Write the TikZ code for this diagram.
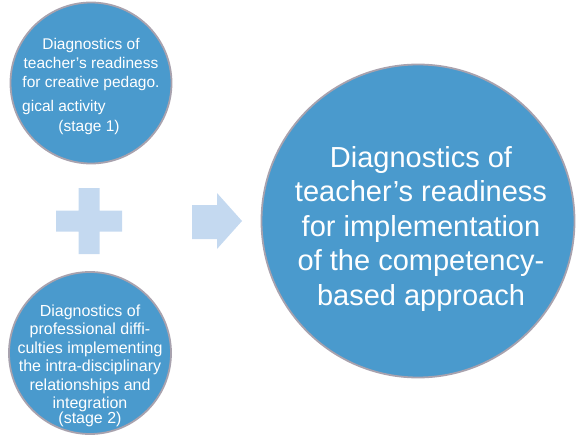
\documentclass[tikz,border=0pt]{standalone}
\usepackage{fontspec}
\setmainfont{Liberation Sans}
\definecolor{discblue}{HTML}{4A9ACD}
\definecolor{discrim}{HTML}{A8A2AE}
\definecolor{paleblue}{HTML}{C4D9F0}
\tikzset{
  disc/.style={circle, fill=discblue, draw=discrim, line width=1.8pt, inner sep=0pt},
  smalltxt/.style={text=white, align=center, inner sep=0pt, font=\fontsize{15.5}{19}\selectfont},
  bigtxt/.style={text=white, align=center, inner sep=0pt, font=\fontsize{29}{34.5}\selectfont},
  paleshape/.style={fill=paleblue, draw=none}
}
\begin{document}
\begin{tikzpicture}[x=1pt, y=-1pt]
  \useasboundingbox (0,0) rectangle (576,436);

  % three discs
  \node[disc, minimum size=161pt] (stageone) at (91,83) {};
  \node[disc, minimum size=162pt] (stagetwo) at (90,353) {};
  \node[disc, minimum size=313pt] (result) at (418,221) {};

  % plus sign between the two stages
  \path[paleshape] (78.5,188) -- (99.5,188) -- (99.5,210.5) -- (122,210.5) -- (122,231.5)
    -- (99.5,231.5) -- (99.5,254) -- (78.5,254) -- (78.5,231.5) -- (56,231.5)
    -- (56,210.5) -- (78.5,210.5) -- cycle;

  % block arrow towards the result
  \path[paleshape] (192,205) -- (217,205) -- (217,193) -- (242,221) -- (217,249)
    -- (217,239) -- (192,239) -- cycle;

  % stage 1 text
  \node[smalltxt] (onehead) at (91,64) {Diagnostics of\\teacher’s readiness\\for creative pedago.};
  \node[smalltxt, anchor=west] (onetail) at (22,107) {gical activity};
  \node[smalltxt] (onestage) at (89,127.5) {(stage 1)};

  % stage 2 text
  \node[smalltxt, font=\fontsize{16}{18.5}\selectfont] (twotext) at (90,366)
    {Diagnostics of\\professional diffi-\\culties implementing\\the intra-disciplinary\\relationships and\\integration\\[-3.5pt](stage 2)};

  % result text
  \node[bigtxt] (resulttext) at (421,229)
    {Diagnostics of\\teacher’s readiness\\for implementation\\of the competency-\\based approach};
\end{tikzpicture}
\end{document}
